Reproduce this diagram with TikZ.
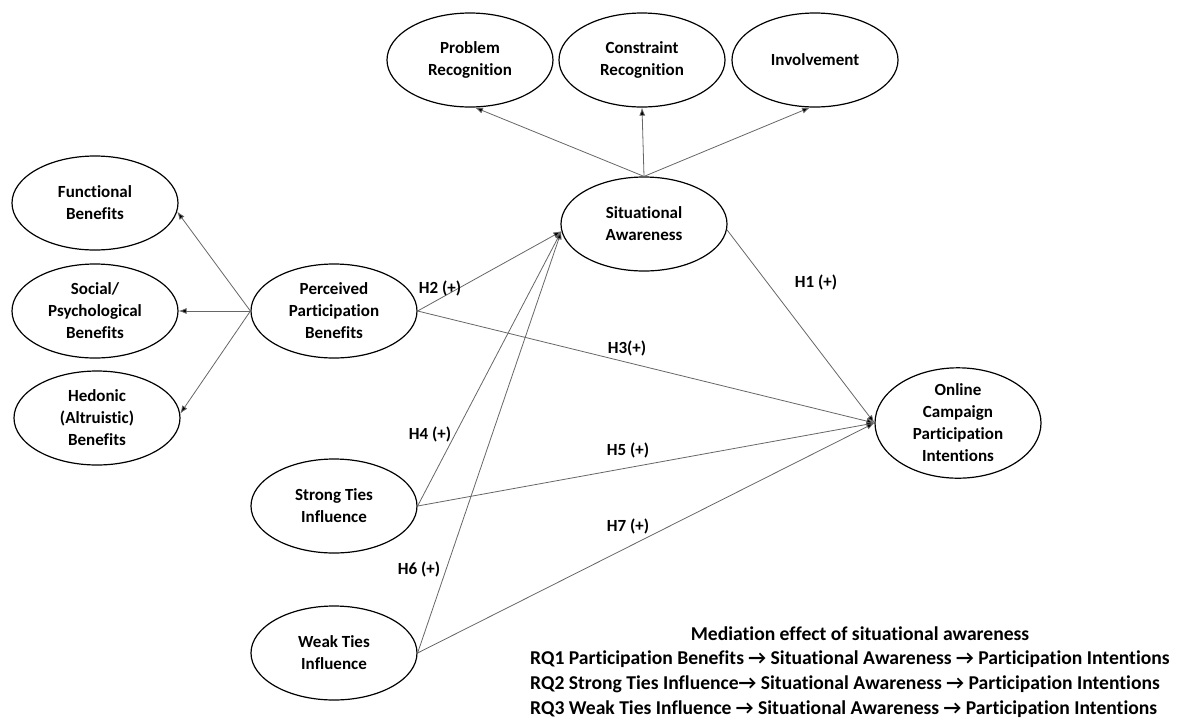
\documentclass[tikz,border=0pt]{standalone}
\usepackage{fontspec}
\setmainfont{Carlito}[Ligatures=NoCommon]
\usetikzlibrary{shapes.geometric,arrows.meta}
\tikzset{
  construct/.style={ellipse,draw=black,line width=1.2pt,minimum width=166pt,minimum height=94pt,inner sep=0pt,align=center,font=\fontsize{17}{22}\selectfont\bfseries},
  link/.style={draw=black!60,line width=0.8pt,-{Latex[length=8pt,width=6pt,fill=black]}},
  hlabel/.style={font=\fontsize{17}{20}\selectfont\bfseries,inner sep=0pt},
  rqtext/.style={font=\fontsize{19.6}{23}\selectfont\bfseries,inner sep=0pt,anchor=west}
}
\begin{document}
\begin{tikzpicture}[x=1pt,y=-1pt]
\useasboundingbox (0,0) rectangle (1191,721);
% top constructs
\node[construct] (pr) at (470,60) {Problem\\Recognition};
\node[construct] (cr) at (642,60) {Constraint\\Recognition};
\node[construct] (inv) at (815,60) {Involvement};
\node[construct] (sa) at (644,224) {Situational\\Awareness};
% left constructs
\node[construct] (fb) at (95,203) {Functional\\Benefits};
\node[construct] (sb) at (95,311) {Social/\\Psychological\\Benefits};
\node[construct] (hb) at (97,418) {Hedonic\\(Altruistic)\\Benefits};
\node[construct] (ppb) at (334,311) {Perceived\\Participation\\Benefits};
\node[construct] (st) at (334,506) {Strong Ties\\Influence};
\node[construct] (wt) at (334,653) {Weak Ties\\Influence};
\node[construct] (oc) at (958,423) {Online\\Campaign\\Participation\\Intentions};
% connectors
\draw[link] (sa.north) -- (pr.-84);
\draw[link] (sa.north) -- (cr.south);
\draw[link] (sa.north) -- (inv.-96);
\draw[link] (ppb.west) -- (fb.-6);
\draw[link] (ppb.west) -- (sb.east);
\draw[link] (ppb.west) -- (hb.3);
\draw[link] (ppb.east) -- (sa.185);
\draw[link] (st.east) -- (sa.185);
\draw[link] (wt.east) -- (sa.185);
\draw[link] (sa.-4) -- (oc.west);
\draw[link] (ppb.east) -- (oc.west);
\draw[link] (st.east) -- (oc.west);
\draw[link] (wt.east) -- (oc.west);
% labels
\node[hlabel] (h2) at (440,288) {H2 (+)};
\node[hlabel] (h1) at (816,282) {H1 (+)};
\node[hlabel] (h3) at (627,348) {H3(+)};
\node[hlabel] (h4) at (430,434) {H4 (+)};
\node[hlabel] (h5) at (628,450) {H5 (+)};
\node[hlabel] (h7) at (628,526) {H7 (+)};
\node[hlabel] (h6) at (419,569) {H6 (+)};
% mediation text
\node[font=\fontsize{19.6}{23}\selectfont\bfseries,inner sep=0pt] (med) at (860,634) {Mediation effect of situational awareness};
\node[rqtext] (rq1) at (530,659) {RQ1 Participation Benefits → Situational Awareness → Participation Intentions};
\node[rqtext] (rq2) at (530,684) {RQ2 Strong Ties Influence→ Situational Awareness → Participation Intentions};
\node[rqtext] (rq3) at (530,709) {RQ3 Weak Ties Influence → Situational Awareness → Participation Intentions};
\end{tikzpicture}
\end{document}
